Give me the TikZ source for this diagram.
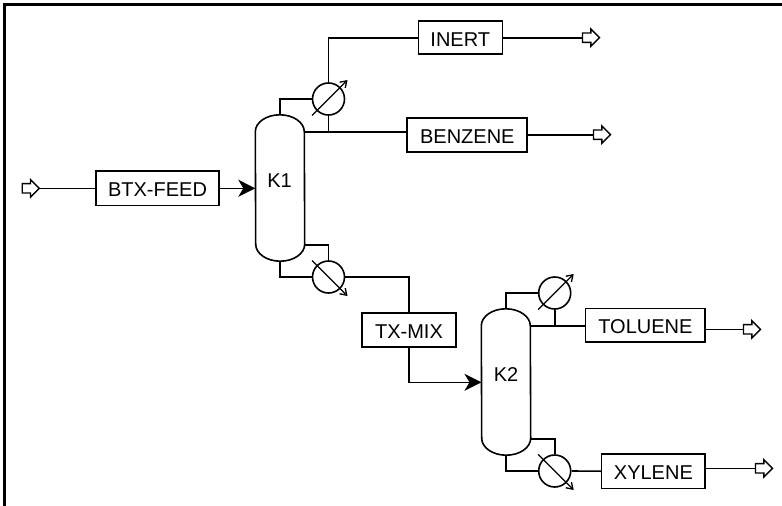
\documentclass[tikz,border=0pt]{standalone}
\usepackage{fontspec}
\setmainfont{Liberation Sans}
\usepackage{tikz}
\usetikzlibrary{arrows.meta,shapes.arrows}

\tikzset{
	pipe/.style={line width=1.6pt},
	feedpipe/.style={pipe,-{Stealth[length=17pt,width=17pt,inset=5pt]}},
	tagbox/.style={draw,line width=1.6pt,rectangle,inner sep=0pt,text height=17pt,text depth=0pt,
		font=\fontsize{20}{23}\selectfont},
	column/.style={rectangle,inner sep=0pt,minimum width=49pt,minimum height=146pt,
		font=\fontsize{20}{23}\selectfont},
	exchanger/.style={draw,line width=1.6pt,circle,inner sep=0pt,minimum size=32pt},
	port/.style={draw,line width=1.4pt,single arrow,inner sep=0pt,text width=2pt,text height=8pt,text depth=0pt,
		minimum height=17pt,single arrow head extend=4pt,anchor=tip},
}

\begin{document}
\begin{tikzpicture}[x=1pt,y=-1pt]
			\useasboundingbox (0,0) rectangle (782,506);
			\coordinate (frameA) at (4.7,506);
			\coordinate (frameB) at (4.7,4.7);
			\coordinate (frameC) at (782,4.7);
			\draw[line width=3pt] (frameA) -- (frameB) -- (frameC);
			\node [column] (K1) at (280,188) {};
			\node [column] (K2) at (506,382) {};
			\node (K1text) at (279.5,181) [font=\fontsize{20}{23}\selectfont] {K1};
			\node (K2text) at (506,375) [font=\fontsize{20}{23}\selectfont] {K2};
			\node [exchanger] (W1) at (328.5,99) {};
			\node [exchanger] (W2) at (328.5,277) {};
			\node [exchanger] (W3) at (554.7,293) {};
			\node [exchanger] (W4) at (554.7,471) {};
			\node [tagbox,minimum width=84pt,minimum height=33pt] (inert) at (460.3,37.7) {INERT};
			\node [tagbox,line width=2pt,minimum width=120pt,minimum height=34pt] (benzene) at (467.3,134.5) {BENZENE};
			\node [tagbox,minimum width=123.5pt,minimum height=34.5pt] (btx) at (157.5,188.3) {BTX-FEED};
			\node [tagbox,minimum width=93.5pt,minimum height=34pt] (txmix) at (409,329.7) {TX-MIX};
			\node [tagbox,minimum width=119.5pt,minimum height=33.5pt] (toluene) at (645.4,325.4) {TOLUENE};
			\node [tagbox,minimum width=103.5pt,minimum height=34.5pt] (xylene) at (653.4,471.2) {XYLENE};
			\node [port] (in) at (40.2,188.3) {};
			\node [port] (out1) at (600.5,37.7) {};
			\node [port] (out2) at (611.5,134.7) {};
			\node [port] (out3) at (761.5,329.3) {};
			\node [port] (out4) at (773.5,468.3) {};
			\coordinate (K1top) at (304.5,132);
			\coordinate (K1low) at (304.5,245);
			\coordinate (K2top) at (530.5,326);
			\coordinate (K2low) at (530.5,439);
			\coordinate (J1) at (328.5,132);
			\coordinate (J2) at (554.7,326);
			\coordinate (B1) at (409,277);
			\coordinate (B2) at (409,382.3);
			\coordinate (K2in) at (481.5,382.3);
			\foreach \Nom in {K1,K2}
				\draw[line width=1.6pt] ([yshift=-17pt]\Nom.north west) arc[start angle=180,end angle=0,x radius=24.5pt,y radius=17pt]
					-- ([yshift=17pt]\Nom.south east) arc[start angle=0,end angle=-180,x radius=24.5pt,y radius=17pt] -- cycle;
			\draw[line width=1pt] (in.tip) -- (btx);
			\draw[feedpipe] (btx) -- (K1.west |- btx);
			\draw[pipe] (K1.north) |- (W1.west);
			\draw[pipe] (W1.north) |- (inert.west);
			\draw[pipe] (inert.east) -- (out1.tail);
			\draw[pipe] (K1top) -- (J1) -- (benzene.west |- J1);
			\draw[pipe] (W1.south) -- (J1);
			\draw[pipe] (benzene.east |- out2) -- (out2.tail);
			\draw[pipe] (K1low) -| (W2.north);
			\draw[pipe] (K1.south) |- (W2.west);
			\draw[pipe] (W2.east) -- (B1) -- (txmix.north -| B1);
			\draw[feedpipe] (txmix.south -| B2) -- (B2) -- (K2in);
			\draw[pipe] (K2.north) |- (W3.west);
			\draw[pipe] (W3.south) -- (J2);
			\draw[pipe] (K2top) -- (J2) -- (toluene.west |- J2);
			\draw[pipe] (toluene.east |- out3) -- (out3.tail);
			\draw[pipe] (K2low) -| (W4.north);
			\draw[pipe] (K2.south) |- (W4.west);
			\draw[pipe] (W4.east) -- (xylene.west);
			\draw[pipe] (xylene.east |- out4) -- (out4.tail);
			\foreach \Nom in {W1,W3}
				\draw[line width=1.3pt,-{Straight Barb[length=6pt,width=8pt]}] ([shift={(-16.5,16.5)}]\Nom.center) -- ([shift={(19,-19)}]\Nom.center);
			\foreach \Nom in {W2,W4}
				\draw[line width=1.3pt,-{Straight Barb[length=6pt,width=8pt]}] ([shift={(-16.5,-16.5)}]\Nom.center) -- ([shift={(19,19)}]\Nom.center);
		\end{tikzpicture}
\end{document}
